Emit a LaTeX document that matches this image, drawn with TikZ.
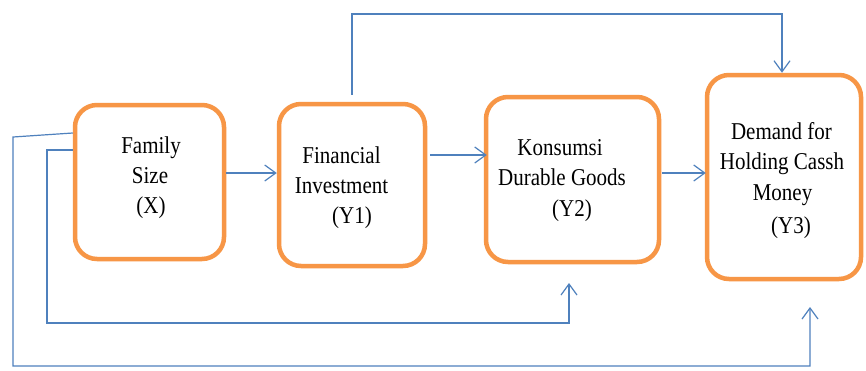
\documentclass[tikz,border=0pt]{standalone}
\usepackage{fontspec}
\setmainfont{Liberation Serif}
\usetikzlibrary{arrows.meta}
\definecolor{boxorange}{HTML}{F79646}
\definecolor{lineblue}{HTML}{4F81BD}
\newcommand{\tx}[1]{\scalebox{1}[1.15]{#1}}
\begin{document}
\begin{tikzpicture}[x=1pt,y=-1pt,
  box/.style={draw=boxorange,line width=4.5pt,rounded corners=22pt,fill=white,inner sep=0pt},
  lbl/.style={anchor=base,inner sep=0pt,font=\fontsize{21pt}{25pt}\selectfont},
  conn/.style={draw=lineblue,line width=1.2pt},
  arr/.style={conn,-{Straight Barb[length=11pt,width=16pt,line width=1.2pt]}}]
\useasboundingbox (0,0) rectangle (866,370);
\fill[white] (0,0) rectangle (866,370);
% boxes
\node[box,minimum width=149pt,minimum height=154pt] (X) at (149.5,182) {};
\node[box,minimum width=146pt,minimum height=162pt] (Y1) at (352,185) {};
\node[box,minimum width=173pt,minimum height=165pt] (Y2) at (572.5,179.5) {};
\node[box,minimum width=154pt,minimum height=204pt] (Y3) at (784,177) {};
% texts
\node[lbl] (x1) at (151,153) {\tx{Family}};
\node[lbl] (x2) at (150,183) {\tx{Size}};
\node[lbl] (x3) at (151,213) {\tx{(X)}};
\node[lbl] (a1) at (341.5,163) {\tx{Financial}};
\node[lbl] (a2) at (341.5,193) {\tx{Investment}};
\node[lbl] (a3) at (352,223) {\tx{(Y1)}};
\node[lbl] (b1) at (560,155) {\tx{Konsumsi}};
\node[lbl] (b2) at (562,185) {\tx{Durable Goods}};
\node[lbl] (b3) at (572,216) {\tx{(Y2)}};
\node[lbl] (c1) at (781.5,139) {\tx{Demand for}};
\node[lbl] (c2) at (782,169) {\tx{Holding Cassh}};
\node[lbl] (c3) at (782.5,200) {\tx{Money}};
\node[lbl] (c4) at (791,233) {\tx{(Y3)}};
% coordinates
\coordinate (top) at (782,14);
\coordinate (l1a) at (13,137);
\coordinate (l1b) at (13,366);
\coordinate (l1c) at (810,366);
\coordinate (l1d) at (810,307);
\coordinate (l2a) at (47,150);
\coordinate (l2b) at (47,323);
\coordinate (l2c) at (569,323);
\coordinate (l2d) at (569,283);
% connectors
\draw[arr] ([yshift=9pt]X.east) -- ([yshift=9pt]X.east -| Y1.west);
\draw[arr] ([xshift=3pt,yshift=30pt]Y1.east) -- ([xshift=3pt,yshift=30pt]Y1.east -| Y2.west);
\draw[arr] ([xshift=1pt,yshift=6.5pt]Y2.east) -- ([xshift=1pt,yshift=6.5pt]Y2.east -| Y3.west);
\draw[arr] ([yshift=7pt]Y1.north) |- (top) -- (top |- Y3.north);
\draw[arr] ([yshift=49pt]X.west) -- (l1a) -- (l1b) -- (l1c) -- (l1d);
\draw[arr] ([yshift=32pt]X.west) -- (l2a) -- (l2b) -- (l2c) -- (l2d);
\end{tikzpicture}
\end{document}
